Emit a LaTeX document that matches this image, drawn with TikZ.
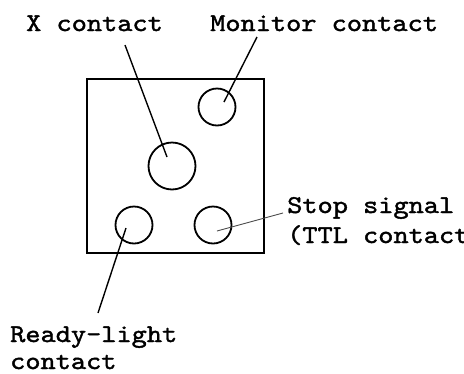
\documentclass[tikz,border=0pt]{standalone}
\usepackage{fontspec}
\newfontfamily\lblfont[FakeStretch=1.13,FakeBold=1.5]{lmmono10-regular.otf}
\begin{document}
\begin{tikzpicture}[x=1pt,y=-1pt,
  lbl/.style={font=\lblfont\fontsize{25.6}{30}\selectfont,inner sep=0pt,anchor=base west},
  contact/.style={draw,circle,line width=1.8pt,inner sep=0pt},
  leader/.style={line width=1.4pt},
  thinleader/.style={line width=0.9pt,black!70}]
\useasboundingbox (0,0) rectangle (464,373);
\clip (0,0) rectangle (464,373);
% housing
\node[draw,line width=2.4pt,minimum width=177pt,minimum height=174pt,inner sep=0pt] (box) at (175.5,166) {};
% contacts
\node[contact,minimum size=37pt] (mon) at (217,107) {};
\node[contact,minimum size=47pt] (xc) at (172,166) {};
\node[contact,minimum size=37pt] (rdy) at (134,225) {};
\node[contact,minimum size=37pt] (stp) at (213,225) {};
% labels
\node[lbl] (xlbl) at (26,31) {X contact};
\node[lbl] (mlbl) at (210,31) {Monitor contact};
\node[lbl] (slbl) at (287,213) {Stop signal};
\node[lbl] (tlbl) at (287,243) {(TTL contact)};
\node[lbl] (rlbl) at (10,342) {Ready-light};
\node[lbl] (clbl) at (10,369) {contact};
% leader end points
\coordinate (xa) at (125,45);
\coordinate (xb) at (167,157);
\coordinate (ma) at (257,37);
\coordinate (mb) at (224,102);
\coordinate (ra) at (126,228);
\coordinate (rb) at (98,313);
\coordinate (sa) at (217,231);
\coordinate (sb) at (283,213);
\draw[leader] (xa) -- (xb);
\draw[leader] (ma) -- (mb);
\draw[leader] (ra) -- (rb);
\draw[thinleader] (sa) -- (sb);
\end{tikzpicture}
\end{document}
